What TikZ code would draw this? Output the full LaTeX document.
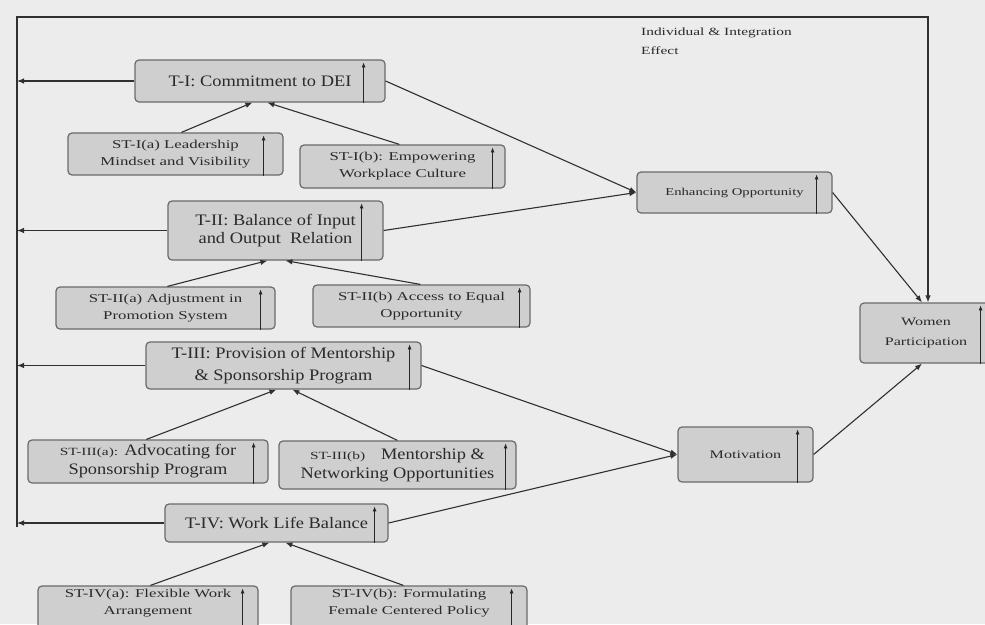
\documentclass[tikz,border=0pt]{standalone}
\usepackage{fontspec}
\setmainfont{Liberation Serif}[FakeStretch=1.15]
\newfontfamily\widefont{Liberation Serif}[FakeStretch=1.4]
\usetikzlibrary{arrows.meta}
\definecolor{bg}{HTML}{ECECEC}
\definecolor{boxfill}{HTML}{CFCFCF}
\definecolor{boxline}{HTML}{6A6A6A}
\definecolor{ink}{HTML}{303030}
\definecolor{txt}{HTML}{2A2A2A}
\tikzset{
  box/.style={draw=boxline, line width=1.2pt, fill=boxfill, rounded corners=4pt,
    align=center, inner sep=2pt, text=txt},
  conn/.style={draw=ink, line width=1.1pt, -{Latex[length=7pt,width=5.5pt]}},
  uparr/.style={draw=black!85, line width=0.8pt, -{Latex[length=5pt,width=4pt]}},
  tfont/.style={font=\fontsize{16}{18}\selectfont},
  tfontb/.style={font=\fontsize{16}{22}\selectfont},
  stfont/.style={font=\widefont\fontsize{12}{17}\selectfont},
  stbig/.style={font=\fontsize{16}{19}\selectfont},
  smfont/.style={font=\widefont\fontsize{10.5}{15}\selectfont},
  wpfont/.style={font=\widefont\fontsize{11.5}{20}\selectfont},
  lblfont/.style={font=\widefont\fontsize{11}{19}\selectfont, text=txt, align=left, inner sep=0pt},
}
\newcommand\mybox[8]{%
  \pgfmathsetmacro\bw{#4-#2}%
  \pgfmathsetmacro\bh{#5-#3}%
  \node[box,#7,minimum width=\bw pt,minimum height=\bh pt] (#1) at ({(#2+#4)/2},{(#3+#5)/2}) {#8};%
  \draw[uparr] ([xshift=-#6pt]#1.south east) -- ([xshift=-#6pt,yshift=-3pt]#1.north east);%
}
\begin{document}
\begin{tikzpicture}[x=1pt,y=-1pt]
\useasboundingbox (0,0) rectangle (985,624);
\fill[bg] (0,0) rectangle (985,624);
\clip (0,0) rectangle (985,624);

% theme boxes
\mybox{t1}{135}{60}{385}{102}{22}{tfont}{T-I: Commitment to DEI}
\mybox{t2}{168}{201}{383}{260}{22}{tfont}{T-II: Balance of Input\\and Output~ Relation}
\mybox{t3}{146}{342}{421}{389}{12}{tfontb}{T-III: Provision of Mentorship\\\& Sponsorship Program}
\mybox{t4}{165}{504}{388}{542}{14}{tfont}{T-IV: Work Life Balance}

% sub-theme boxes
\mybox{s1a}{68}{133}{283}{175}{20}{stfont}{ST-I(a) Leadership\\Mindset and Visibility}
\mybox{s1b}{300}{145}{505}{188}{13}{stfont}{ST-I(b): Empowering\\Workplace Culture}
\mybox{s2a}{56}{287}{275}{329}{15}{stfont}{ST-II(a) Adjustment in\\Promotion System}
\mybox{s2b}{313}{285}{530}{327}{11}{stfont}{ST-II(b) Access to Equal\\Opportunity}
\mybox{s3a}{28}{440}{268}{483}{15}{stbig}{{\widefont\fontsize{11}{19}\selectfont ST-III(a):} Advocating for\\Sponsorship Program}
\mybox{s3b}{279}{441}{516}{489}{11}{stbig}{{\widefont\fontsize{11}{19}\selectfont ST-III(b)}\quad Mentorship \&\\Networking Opportunities}
\mybox{s4a}{38}{586}{258}{640}{16}{stfont}{ST-IV(a): Flexible Work\\Arrangement\\\strut}
\mybox{s4b}{291}{586}{527}{640}{16}{stfont}{ST-IV(b): Formulating\\Female Centered Policy\\\strut}

% outcome boxes
\mybox{eo}{637}{172}{832}{213}{16}{smfont}{Enhancing Opportunity}
\mybox{mo}{678}{427}{813}{482}{16}{wpfont}{Motivation}
\mybox{wp}{860}{303}{992}{363}{12}{wpfont}{Women\\Participation}

% label
\node[lblfont, anchor=north west] (lbl) at (641,28) {Individual \& Integration\\Effect};

% integration loop
\coordinate (ltop) at (17,17);
\coordinate (rtop) at (928,17);
\coordinate (lbot) at (17,527);
\draw[conn] (lbot) -- (ltop) -- (rtop) -- (rtop |- wp.north);

% arrows from themes to the left line
\draw[conn] (t1.west) -- (t1.west -| ltop);
\draw[conn] (t2.west) -- (t2.west -| ltop);
\draw[conn] (t3.west) -- (t3.west -| ltop);
\draw[conn] (t4.west) -- (t4.west -| ltop);

% sub-themes to themes
\draw[conn] ([xshift=114pt]s1a.north west) -- ([xshift=118pt]t1.south west);
\draw[conn] ([xshift=100pt]s1b.north west) -- ([xshift=133pt]t1.south west);
\draw[conn] ([xshift=112pt]s2a.north west) -- ([xshift=100pt]t2.south west);
\draw[conn] ([xshift=108pt]s2b.north west) -- ([xshift=118pt]t2.south west);
\draw[conn] ([xshift=119pt]s3a.north west) -- ([xshift=131pt]t3.south west);
\draw[conn] ([xshift=119pt]s3b.north west) -- ([xshift=147pt]t3.south west);
\draw[conn] ([xshift=113pt]s4a.north west) -- ([xshift=105pt]t4.south west);
\draw[conn] ([xshift=113pt]s4b.north west) -- ([xshift=121pt]t4.south west);

% themes to mediators
\draw[conn] (t1.east) -- (eo.west);
\draw[conn] (t2.east) -- (eo.west);
\draw[conn] (t3.east) -- (mo.west);
\draw[conn] (t4.east) -- (mo.west);

% mediators to outcome
\draw[conn] (eo.east) -- ([xshift=-4pt]wp.north);
\draw[conn] (mo.east) -- ([xshift=-4pt]wp.south);
\end{tikzpicture}
\end{document}
